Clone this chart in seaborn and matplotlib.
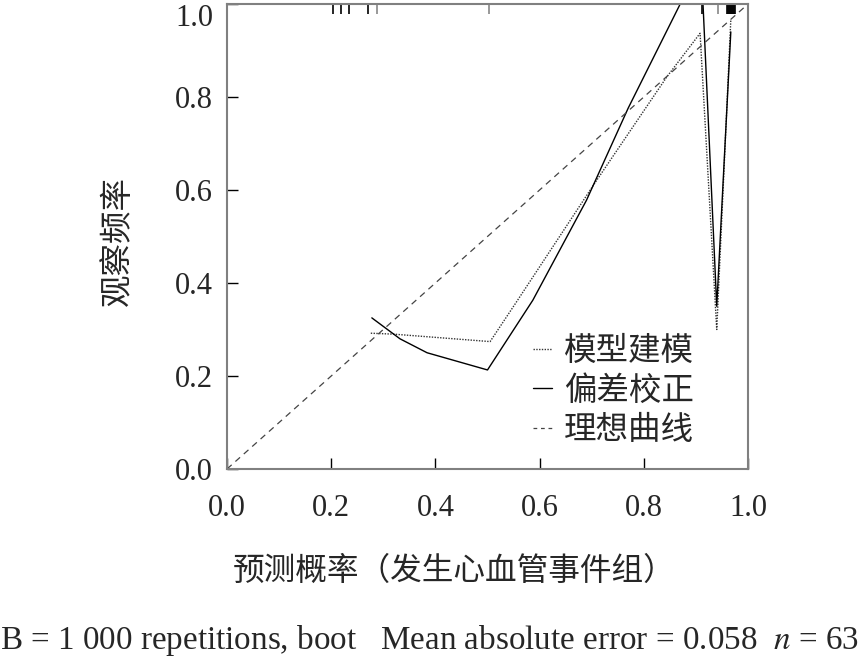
import numpy as np
import pandas as pd
import matplotlib
matplotlib.use('Agg')
import matplotlib.pyplot as plt
import seaborn as sns
from matplotlib.lines import Line2D

# Данные
apparent_x = [0.276, 0.32, 0.505, 0.556, 0.706, 0.844, 0.908, 0.94, 0.967]
apparent_y = [0.292, 0.29, 0.274, 0.36, 0.615, 0.843, 0.937, 0.30, 0.966]

corrected_x = [0.278, 0.332, 0.384, 0.50, 0.587, 0.69, 0.77, 0.91, 0.94, 0.967]
corrected_y = [0.325, 0.28, 0.25, 0.213, 0.363, 0.578, 0.776, 1.09, 0.35, 0.94]

ideal_x = [0.0, 1.0]
ideal_y = [0.0, 1.0]

rug_black = [0.203, 0.218, 0.234, 0.270, 0.912,
             0.960, 0.962, 0.964, 0.966, 0.968, 0.970, 0.972, 0.974, 0.976]
rug_gray = [0.288, 0.502, 0.942]

ticks = [0.0, 0.2, 0.4, 0.6, 0.8, 1.0]
tick_labels = ['0.0', '0.2', '0.4', '0.6', '0.8', '1.0']
legend_labels = ['模型建模', '偏差校正', '理想曲线']

sns.set_style('white')
plt.rcParams['font.family'] = ['Liberation Serif', 'Noto Sans CJK SC']
plt.rcParams['mathtext.fontset'] = 'stix'

fig = plt.figure(figsize=(8.67, 6.56), dpi=100)
ax = fig.add_axes([227 / 867, 1 - 469 / 656, 521 / 867, 465 / 656])

df_app = pd.DataFrame({'x': apparent_x, 'y': apparent_y})
df_cor = pd.DataFrame({'x': corrected_x, 'y': corrected_y})
df_ide = pd.DataFrame({'x': ideal_x, 'y': ideal_y})

sns.lineplot(data=df_app, x='x', y='y', sort=False, estimator=None, ax=ax,
             color='#333333', lw=1.0, linestyle=(0, (1, 1)))
sns.lineplot(data=df_cor, x='x', y='y', sort=False, estimator=None, ax=ax,
             color='black', lw=1.0, linestyle='-')
sns.lineplot(data=df_ide, x='x', y='y', sort=False, estimator=None, ax=ax,
             color='#444444', lw=0.9, linestyle=(0, (5, 4)))

# Рагплот сверху
trans = ax.get_xaxis_transform()
ax.vlines(rug_black, 0.978, 1.0, transform=trans, color='black', lw=1.2)
ax.vlines(rug_gray, 0.978, 1.0, transform=trans, color='#888888', lw=1.2)

ax.set_xlim(0, 1)
ax.set_ylim(0, 1)
ax.set_xticks(ticks)
ax.set_yticks(ticks)
ax.set_xticklabels(tick_labels, fontsize=22)
ax.set_yticklabels(tick_labels, fontsize=22)
ax.get_yticklabels()[-1].set_va('top')
ax.tick_params(axis='both', direction='in', length=8, width=1, color='black',
               bottom=True, left=True, top=False, right=False)
ax.tick_params(axis='x', pad=18)
ax.tick_params(axis='y', pad=10)
for s in ax.spines.values():
    s.set_color('#808080')
    s.set_linewidth(1.5)

ax.set_xlabel('预测概率（发生心血管事件组）', fontsize=22.8,
              family=['Noto Sans CJK SC'])
ax.xaxis.set_label_coords(0.435, -0.184)
ax.set_ylabel('观察频率', fontsize=23.4, family=['Noto Sans CJK SC'])
ax.yaxis.set_label_coords(-0.178, 0.49)

handles = [Line2D([], [], color='#333333', lw=1.0, linestyle=(0, (1, 1))),
           Line2D([], [], color='black', lw=1.0),
           Line2D([], [], color='#444444', lw=0.9, linestyle=(0, (3, 3)))]
ax.legend(handles, legend_labels, frameon=False, loc='upper left',
          bbox_to_anchor=(0.587, 0.288), borderpad=0, borderaxespad=0,
          prop={'family': 'Noto Sans CJK SC', 'size': 23.4},
          handlelength=0.6, handletextpad=0.37, labelspacing=0.23)

fig.text(0.0, 1 - 640 / 656, 'B = 1 000 repetitions, boot   Mean absolute error = 0.058  $n$ = 63',
         fontsize=23.9, ha='left', va='center')

fig.savefig('out.png', dpi=100)
